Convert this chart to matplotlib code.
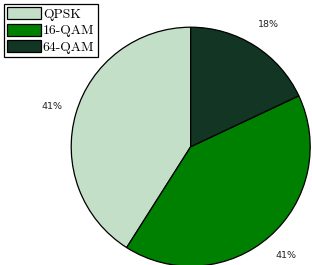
import matplotlib
matplotlib.use("Agg")
import matplotlib.pyplot as plt

labels = ["QPSK", "16-QAM", "64-QAM"]
shares = [41, 41, 18]
colors = ["#c3dfc8", "#008000", "#123524"]

W, H = 312, 265
fig = plt.figure(figsize=(W / 100, H / 100), dpi=100)
cx, cy, r = 190.7, 146.7, 119.5
ax = fig.add_axes([(cx - r) / W, (H - cy - r) / H, 2 * r / W, 2 * r / H])

wedges, texts, autotexts = ax.pie(
    shares, colors=colors, startangle=90, counterclock=True,
    autopct="%1.0f%%", pctdistance=1.21, radius=1.0,
    wedgeprops=dict(edgecolor="black", linewidth=0.9),
    textprops=dict(fontsize=6.8, color="#222222", family="DejaVu Sans"))
for w in wedges:
    w.set_clip_on(False)
for t in autotexts:
    t.set_clip_on(False)
ax.set_xlim(-1, 1); ax.set_ylim(-1, 1)
ax.set_aspect("equal")
ax.axis("off")

leg = fig.legend(wedges, labels, loc="upper left",
                 bbox_to_anchor=(4 / W, 1 - 4 / H), bbox_transform=fig.transFigure,
                 prop=dict(family="cmr10", size=9.8), fancybox=False, framealpha=1,
                 edgecolor="black", borderpad=0.25, labelspacing=0.22,
                 handlelength=2.5, handleheight=0.95, handletextpad=0.1,
                 borderaxespad=0)
leg.get_frame().set_linewidth(0.9)

fig.savefig("out.png", dpi=100)
